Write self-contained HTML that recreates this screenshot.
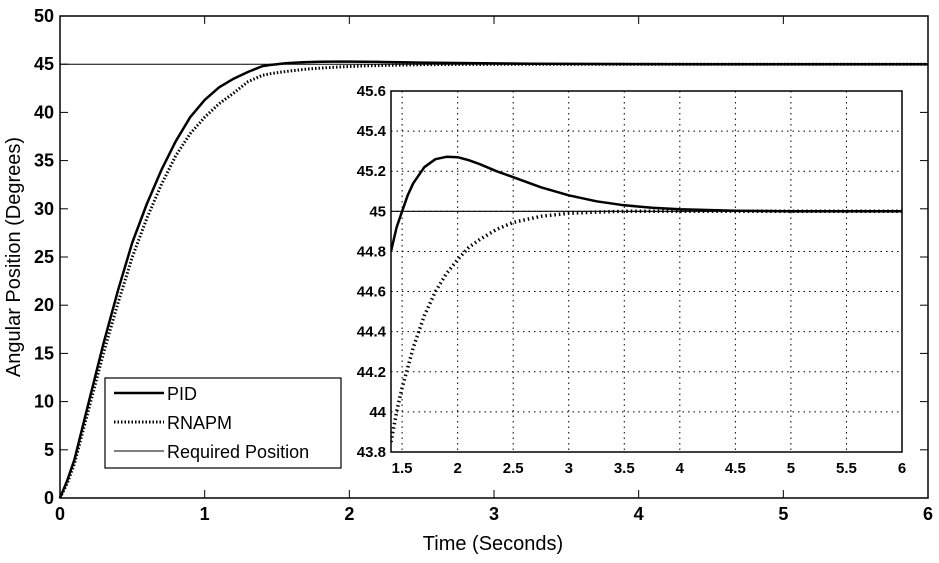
<!DOCTYPE html>
<html><head><meta charset="utf-8"><style>
body{margin:0;background:#fff;}
svg text{font-family:"Liberation Sans",Arial,sans-serif;}
</style></head><body>
<svg id="c" width="939" height="558" xmlns="http://www.w3.org/2000/svg"></svg>
<script>
const times=[0,0.05,0.1,0.2,0.3,0.4,0.5,0.6,0.7,0.8,0.9,1.0,1.1,1.2,1.3,1.4,1.45,1.5,1.55,1.6,1.7,1.8,1.9,2.0,2.1,2.2,2.35,2.5,2.75,3.0,3.25,3.5,3.75,4.0,4.5,5.0,6.0];
const pid=[0,1.8,4,10,16,21.5,26.5,30.5,34,37,39.5,41.3,42.6,43.5,44.2,44.8,44.92,45.0,45.08,45.14,45.22,45.26,45.272,45.27,45.255,45.235,45.2,45.17,45.12,45.08,45.05,45.03,45.018,45.01,45.003,45.0,45.0];
const rnapm=[0,1.5,3.6,9.3,15,20.2,25,29,32.5,35.5,37.8,39.5,40.9,42.0,43.2,43.85,44.0,44.12,44.22,44.32,44.48,44.6,44.69,44.76,44.82,44.86,44.91,44.945,44.975,44.99,44.996,45.0,45.0,45.0,45.0,45.0,45.0];
const required=45;
const xTicks=[0,1,2,3,4,5,6];
const yTicks=[0,5,10,15,20,25,30,35,40,45,50];
const insetXTicks=[1.5,2,2.5,3,3.5,4,4.5,5,5.5,6];
const insetYTicks=[43.8,44,44.2,44.4,44.6,44.8,45,45.2,45.4,45.6];
const NS="http://www.w3.org/2000/svg";
const svg=document.getElementById('c');
function el(t,a,p){const e=document.createElementNS(NS,t);for(const k in a)e.setAttribute(k,a[k]);(p||svg).appendChild(e);return e;}
const M={l:60,r:928,t:16,b:498,x0:0,x1:6,y0:0,y1:50};
const I={l:391,r:902,t:91,b:452,x0:1.4,x1:6,y0:43.8,y1:45.6};
const sx=(A,v)=>A.l+(v-A.x0)/(A.x1-A.x0)*(A.r-A.l);
const sy=(A,v)=>A.b-(v-A.y0)/(A.y1-A.y0)*(A.b-A.t);
let r=el('rect',{x:M.l,y:M.t,width:M.r-M.l,height:M.b-M.t,fill:'#fff',stroke:'#000','stroke-width':1.5});

xTicks.forEach(v=>{const x=sx(M,v);
 el('line',{x1:x,x2:x,y1:M.b,y2:M.b-8,stroke:'#000'});el('line',{x1:x,x2:x,y1:M.t,y2:M.t+8,stroke:'#000'});
 const t=el('text',{x:x,y:M.b+22,'text-anchor':'middle','font-size':18,'font-weight':'bold'});t.textContent=v;
 });
yTicks.forEach(v=>{const y=sy(M,v);
 el('line',{x1:M.l,x2:M.l+8,y1:y,y2:y,stroke:'#000'});el('line',{x1:M.r,x2:M.r-8,y1:y,y2:y,stroke:'#000'});
 const t=el('text',{x:M.l-6,y:y+6,'text-anchor':'end','font-size':18,'font-weight':'bold'});t.textContent=v;
 });
function path(A,xs,ys){let d='';xs.forEach((x,i)=>{if(x<A.x0-0.01)return;d+=(d?'L':'M')+sx(A,x).toFixed(1)+','+sy(A,ys[i]).toFixed(1);});return d;}
let l=el('line',{x1:M.l,x2:M.r,y1:sy(M,required),y2:sy(M,required),stroke:'#000','stroke-width':1});

let p=el('path',{d:path(M,times,rnapm),fill:'none',stroke:'#000','stroke-width':3,'stroke-dasharray':'1.5 2'});

p=el('path',{d:path(M,times,pid),fill:'none',stroke:'#000','stroke-width':2.5,'stroke-linejoin':'round'});

let t=el('text',{x:493,y:550,'text-anchor':'middle','font-size':20});t.textContent='Time (Seconds)';

t=el('text',{x:0,y:0,'text-anchor':'middle','font-size':20,transform:'translate(20,257) rotate(-90)'});t.textContent='Angular Position (Degrees)';

const g=el('g',{});
el('rect',{x:105,y:378,width:236,height:90,fill:'#fff',stroke:'#000','stroke-width':1.2},g);
[['PID',{stroke:'#000','stroke-width':2.5}],['RNAPM',{stroke:'#000','stroke-width':3,'stroke-dasharray':'1.5 2'}],['Required Position',{stroke:'#000','stroke-width':1}]].forEach((e,i)=>{
 const y=393+i*29;const a=Object.assign({x1:114,x2:164,y1:y,y2:y},e[1]);
 const ln=el('line',a,g);
 const tx=el('text',{x:167,y:y+7,'font-size':18},g);tx.textContent=e[0];
 });
r=el('rect',{x:I.l,y:I.t,width:I.r-I.l,height:I.b-I.t,fill:'#fff',stroke:'#000','stroke-width':1.5});

insetXTicks.forEach(v=>{const x=sx(I,v);
 el('line',{x1:x,x2:x,y1:I.t,y2:I.b,stroke:'#000','stroke-width':1,'stroke-dasharray':'1.5 4'});
 const tt=el('text',{x:x,y:I.b+21,'text-anchor':'middle','font-size':15,'font-weight':'bold'});tt.textContent=v;
 });
insetYTicks.forEach(v=>{const y=sy(I,v);
 el('line',{x1:I.l,x2:I.r,y1:y,y2:y,stroke:'#000','stroke-width':1,'stroke-dasharray':'1.5 4'});
 const tt=el('text',{x:I.l-5,y:y+5,'text-anchor':'end','font-size':15,'font-weight':'bold'});tt.textContent=v;
 });
const cp=el('clipPath',{id:'ic'});
el('rect',{x:I.l,y:I.t,width:I.r-I.l,height:I.b-I.t},cp);
l=el('line',{x1:I.l,x2:I.r,y1:sy(I,required),y2:sy(I,required),stroke:'#000','stroke-width':1.2});

p=el('path',{d:path(I,times,rnapm),fill:'none',stroke:'#000','stroke-width':3.5,'stroke-dasharray':'1.5 3','clip-path':'url(#ic)'});

p=el('path',{d:path(I,times,pid),fill:'none',stroke:'#000','stroke-width':2.5,'stroke-linejoin':'round','clip-path':'url(#ic)'});

</script>
</body></html>
